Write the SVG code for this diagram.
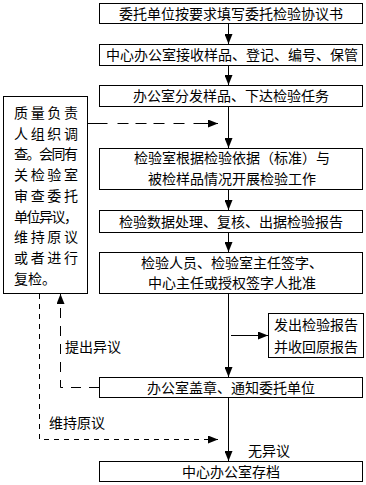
<svg xmlns="http://www.w3.org/2000/svg" width="366" height="485" viewBox="0 0 366 485">
<defs>
<style>
.box{fill:#fff;stroke:#000;stroke-width:1}
.t{font-family:"Noto Sans CJK SC","Noto Sans",sans-serif;font-size:14px;fill:#000}
.c{text-anchor:middle}
.ln{fill:none;stroke:#000;stroke-width:1}
.d1{stroke-dasharray:20,10,11,7,11,7,11,9,11,9,40}
.d2{stroke-dasharray:5,5}
.d3{stroke-dasharray:10,8}
</style>
<marker id="ah" viewBox="0 0 10 8" refX="10" refY="4" markerWidth="10" markerHeight="8" orient="auto" markerUnits="userSpaceOnUse">
<path d="M0,0 L10,4 L0,8 z" fill="#000"/>
</marker>
</defs>
<rect width="366" height="485" fill="#fff"/>
<g id="connectors">
<line class="ln" x1="228.5" y1="23.5" x2="228.5" y2="44" marker-end="url(#ah)"/>
<line class="ln" x1="228.5" y1="65.5" x2="228.5" y2="85" marker-end="url(#ah)"/>
<line class="ln" x1="228.5" y1="106.5" x2="228.5" y2="148" marker-end="url(#ah)"/>
<line class="ln" x1="228.5" y1="189.5" x2="228.5" y2="210" marker-end="url(#ah)"/>
<line class="ln" x1="228.5" y1="232.5" x2="228.5" y2="252" marker-end="url(#ah)"/>
<line class="ln" x1="228.5" y1="293.5" x2="228.5" y2="377" marker-end="url(#ah)"/>
<line class="ln" x1="228.5" y1="397.5" x2="228.5" y2="461" marker-end="url(#ah)"/>
<line class="ln" x1="231" y1="335.5" x2="268" y2="335.5" marker-end="url(#ah)"/>
<line class="ln d1" x1="87.5" y1="123.5" x2="218" y2="123.5" marker-end="url(#ah)"/>
<polyline class="ln d3" points="99,387.5 60.5,387.5 60.5,294" marker-end="url(#ah)"/>
<polyline class="ln d2" points="39.5,294 39.5,439.5 218,439.5" marker-end="url(#ah)"/>
</g>
<g id="n1"><rect class="box" x="99.5" y="3.5" width="263" height="20"/><text class="t c" x="231" y="18.5">委托单位按要求填写委托检验协议书</text></g>
<g id="n2"><rect class="box" x="99.5" y="44.5" width="263" height="21"/><text class="t c" x="232" y="60">中心办公室接收样品、登记、编号、保管</text></g>
<g id="n3"><rect class="box" x="99.5" y="85.5" width="263" height="21"/><text class="t c" x="231" y="101">办公室分发样品、下达检验任务</text></g>
<g id="n4"><rect class="box" x="99.5" y="148.5" width="263" height="41"/><text class="t c" x="232" y="163">检验室根据检验依据（标准）与</text><text class="t c" x="232" y="184">被检样品情况开展检验工作</text></g>
<g id="n5"><rect class="box" x="99.5" y="210.5" width="263" height="22"/><text class="t c" x="231" y="226.5">检验数据处理、复核、出据检验报告</text></g>
<g id="n6"><rect class="box" x="99.5" y="252.5" width="263" height="41"/><text class="t c" x="232" y="268">检验人员、检验室主任签字、</text><text class="t c" x="232" y="288">中心主任或授权签字人批准</text></g>
<g id="n7"><rect class="box" x="268.5" y="313.5" width="95" height="44"/><text class="t c" x="316" y="330">发出检验报告</text><text class="t c" x="316" y="352">并收回原报告</text></g>
<g id="n8"><rect class="box" x="99.5" y="377.5" width="263" height="20"/><text class="t c" x="231" y="392.5">办公室盖章、通知委托单位</text></g>
<g id="n9"><rect class="box" x="99.5" y="461.5" width="263" height="20"/><text class="t c" x="231" y="476.5">中心办公室存档</text></g>
<g id="n10"><rect class="box" x="3.5" y="96.5" width="84" height="197"/>
<text class="t" x="14" y="118" textLength="64" lengthAdjust="spacing">质量负责</text>
<text class="t" x="14" y="138.5" textLength="64" lengthAdjust="spacing">人组织调</text>
<text class="t" x="14" y="159" textLength="64" lengthAdjust="spacing">查。会同有</text>
<text class="t" x="14" y="180" textLength="64" lengthAdjust="spacing">关检验室</text>
<text class="t" x="14" y="200.5" textLength="64" lengthAdjust="spacing">审查委托</text>
<text class="t" x="14" y="221.5" textLength="64" lengthAdjust="spacing">单位异议，</text>
<text class="t" x="14" y="242" textLength="64" lengthAdjust="spacing">维持原议</text>
<text class="t" x="14" y="263" textLength="64" lengthAdjust="spacing">或者进行</text>
<text class="t" x="14" y="284">复检。</text>
</g>
<g id="labels">
<text class="t" x="65" y="352">提出异议</text>
<text class="t" x="49" y="428">维持原议</text>
<text class="t" x="248" y="456">无异议</text>
</g>
</svg>
